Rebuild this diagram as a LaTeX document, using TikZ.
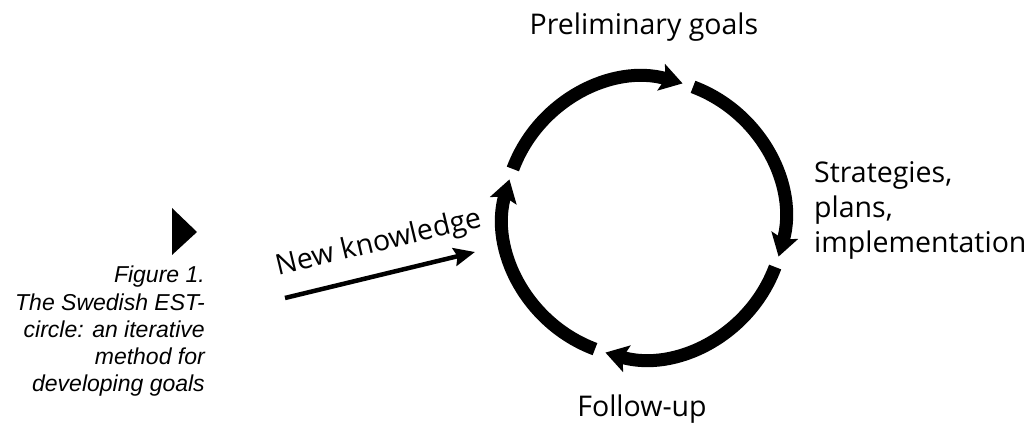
\documentclass[tikz,border=0pt]{standalone}
\usepackage{fontspec}
\setmainfont{Open Sans}
\newfontfamily\capfont{Liberation Sans}
\usetikzlibrary{arrows.meta}

\tikzset{
  ring/.style={line width=13pt, -{Stealth[length=22pt,width=27pt,inset=4pt]}},
  feed/.style={line width=4.5pt, -{Stealth[length=21pt,width=18pt,inset=3pt]}},
  step label/.style={font=\fontsize{28.5}{35}\selectfont, inner sep=0pt},
}

\begin{document}
\begin{tikzpicture}[x=1pt, y=1pt]
  \useasboundingbox (0,0) rectangle (1034,427);

  \coordinate (c) at (644,209);

  % the four arcs of the circle
  \foreach \g in {72,-18,-108,-198}
    \draw[ring] ([shift={(\g+87.5:140)}]c) arc[start angle=\g+87.5, end angle=\g+2, radius=140];

  \node[step label, anchor=base] (goals) at (644,392) {Preliminary goals};
  \node[step label, anchor=base west, align=left] (plans) at (814,174)
    {Strategies,\\plans,\\implementation};
  \node[step label, anchor=base] (follow) at (642,10) {Follow-up};

  % new knowledge comes in from outside
  \coordinate (nk start) at (285,129);
  \coordinate (nk end) at (475,175);
  \draw[feed] (nk start) -- (nk end);
  \node[step label, anchor=base, rotate=13.5] (knowledge) at (381,176) {New knowledge};

  % caption
  \fill (172,219) -- (172,172) -- (197,195) -- cycle;
  \node[font=\capfont\itshape\fontsize{23}{27.3}\selectfont, align=right, anchor=base east, inner sep=0pt]
    (caption) at (205,35) {Figure 1.\\The Swedish EST-\\circle: an iterative\\method for\\developing goals};
\end{tikzpicture}
\end{document}
